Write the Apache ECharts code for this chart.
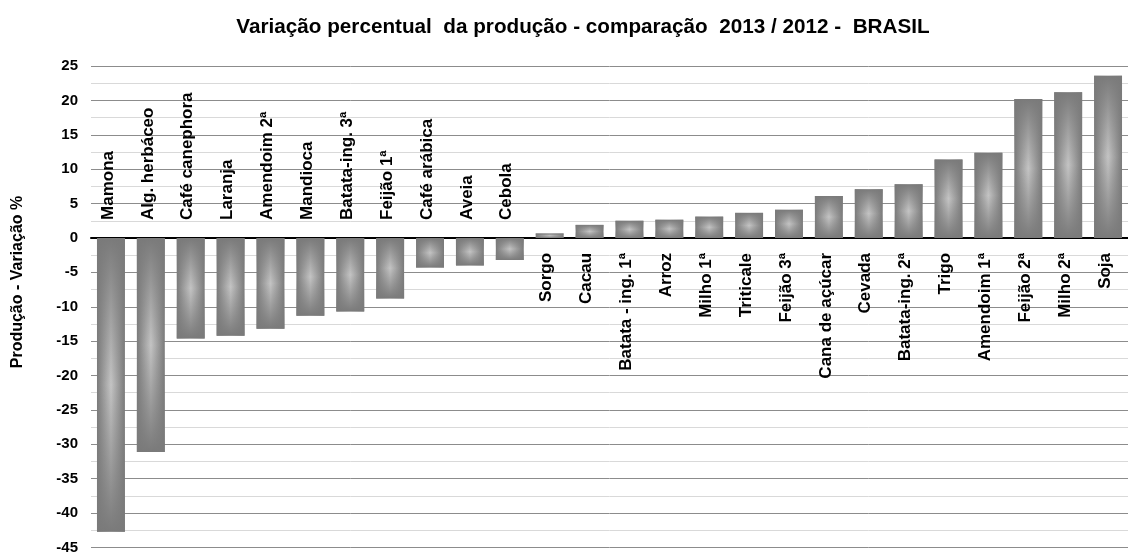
<!DOCTYPE html>
<html>
<head>
<meta charset="utf-8">
<script src="https://cdn.jsdelivr.net/npm/echarts@6/dist/echarts.min.js"></script>
<style>
html,body{margin:0;padding:0;background:#fff;}
#chart{width:1128px;height:555px;}
</style>
</head>
<body>
<div id="chart"></div>
<script>
var categories = ['Mamona','Alg. herbáceo','Café canephora','Laranja','Amendoim 2ª','Mandioca','Batata-ing. 3ª','Feijão 1ª','Café arábica','Aveia','Cebola','Sorgo','Cacau','Batata - ing. 1ª','Arroz','Milho 1ª','Triticale','Feijão 3ª','Cana de açúcar','Cevada','Batata-ing. 2ª','Trigo','Amendoim 1ª','Feijão 2ª','Milho 2ª','Soja'];
var values = [-42.7,-31.1,-14.6,-14.2,-13.2,-11.3,-10.7,-8.8,-4.3,-4.0,-3.2,0.65,1.9,2.5,2.65,3.1,3.65,4.1,6.1,7.1,7.8,11.4,12.4,20.2,21.2,23.6];
var yTicks = {min:-45, max:25, interval:5};
var titleText = 'Variação percentual  da produção - comparação  2013 / 2012 -  BRASIL';
var yName = 'Produção - Variação %';

var chart = echarts.init(document.getElementById('chart'), null, {renderer:'canvas'});
var FONT = 'Arial, "Liberation Sans", sans-serif';

var option = {
  backgroundColor:'#ffffff',
  animation:false,
  title:{
    text:titleText, left:578, top:12, textAlign:'center',
    textStyle:{fontFamily:FONT, fontWeight:'bold', fontSize:20.7, color:'#000'}
  },
  graphic:[{
    type:'text', x:18, y:282, rotation:Math.PI/2,
    style:{text:yName, font:'bold 16px ' + FONT, fill:'#000', align:'center', verticalAlign:'middle'}
  }],
  grid:{left:91, right:-12, top:66, bottom:2, containLabel:false},
  xAxis:{
    type:'category', data:categories,
    axisLine:{show:true, onZero:true, lineStyle:{color:'#000', width:2}},
    axisTick:{show:false},
    axisLabel:{show:false},
    splitLine:{show:false}
  },
  yAxis:{
    type:'value', min:yTicks.min, max:yTicks.max, interval:yTicks.interval,
    axisLine:{show:false}, axisTick:{show:false},
    axisLabel:{fontFamily:FONT, fontWeight:'bold', fontSize:15, color:'#000', margin:13},
    splitLine:{show:true, lineStyle:{color:'#8c8c8c', width:1}},
    minorTick:{show:false, splitNumber:2},
    minorSplitLine:{show:true, lineStyle:{color:'#d9d9d9', width:1}}
  },
  series:[
    {
      type:'bar', data:values, barCategoryGap:'30%', z:2,
      itemStyle:{color:{type:'linear', x:0, y:0, x2:1, y2:0, colorStops:[
        {offset:0, color:'#7a7a7a'},{offset:0.5, color:'#c4c4c4'},{offset:1, color:'#7a7a7a'}]}}
    },
    {
      type:'bar', data:values, barGap:'-100%', barCategoryGap:'30%', z:3, silent:true,
      itemStyle:{color:{type:'linear', x:0, y:0, x2:0, y2:1, colorStops:[
        {offset:0, color:'rgba(122,122,122,1)'},{offset:0.5, color:'rgba(122,122,122,0)'},{offset:1, color:'rgba(122,122,122,1)'}]}}
    },
    {
      type:'custom', z:5, silent:true,
      data: values.map(function(v,i){return [i, v];}),
      renderItem:function(params, api){
        var idx = api.value(0), v = api.value(1);
        var p = api.coord([idx, 0]);
        var neg = v < 0;
        return {
          type:'text', x:p[0] - 3, y:p[1] + (neg ? -18 : 15), rotation:Math.PI/2,
          style:{text:categories[params.dataIndex], font:'bold 17px ' + FONT, fill:'#000',
                 align: neg ? 'left' : 'right', verticalAlign:'middle'}
        };
      }
    }
  ]
};
chart.setOption(option);
</script>
</body>
</html>
